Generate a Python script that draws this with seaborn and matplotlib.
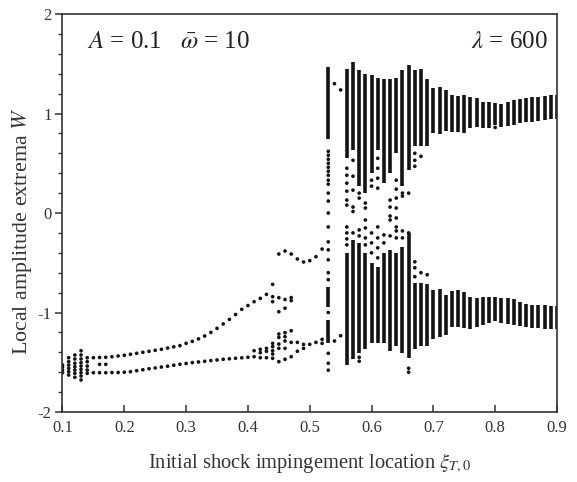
import numpy as np
import pandas as pd
import matplotlib
matplotlib.use("Agg")
import matplotlib.pyplot as plt
from matplotlib.ticker import MultipleLocator, FixedLocator
import seaborn as sns

# ---------------- data ----------------
# quasi-periodic cluster at small xi
cluster_x = [0.10, 0.11, 0.12, 0.13, 0.14, 0.16, 0.17]
cluster_y = [
    [-1.528, -1.55, -1.578, -1.605],
    [-1.454, -1.494, -1.528, -1.561, -1.595, -1.628],
    [-1.427, -1.467, -1.51, -1.545, -1.578, -1.611, -1.651],
    [-1.384, -1.427, -1.467, -1.505, -1.538, -1.571, -1.605, -1.638, -1.678],
    [-1.454, -1.494, -1.538, -1.578, -1.611],
    [-1.521],
    [-1.521],
]

# period-2 branches
branch_x = [0.15, 0.16, 0.17, 0.18, 0.19, 0.20, 0.21, 0.22, 0.23, 0.24,
            0.25, 0.26, 0.27, 0.28, 0.29, 0.30, 0.31, 0.32, 0.33, 0.34,
            0.35, 0.36, 0.37, 0.38, 0.39, 0.40, 0.41, 0.42, 0.43]
branch_upper = [-1.454, -1.452, -1.45, -1.444, -1.437, -1.43, -1.42, -1.41, -1.40, -1.39,
                -1.38, -1.37, -1.357, -1.345, -1.333, -1.31, -1.29, -1.265, -1.236, -1.20,
                -1.159, -1.115, -1.069, -1.02, -0.968, -0.93, -0.891, -0.858, -0.818]
branch_lower = [-1.605, -1.605, -1.605, -1.603, -1.603, -1.60, -1.595, -1.585, -1.575, -1.565,
                -1.557, -1.548, -1.54, -1.53, -1.52, -1.512, -1.503, -1.497, -1.49, -1.483,
                -1.477, -1.47, -1.465, -1.46, -1.455, -1.45, -1.444, -1.454, -1.454]

# extra points in the window region 0.41 - 0.55
window_x = [0.41, 0.42, 0.43, 0.44, 0.45, 0.46, 0.47, 0.48, 0.49, 0.50,
            0.51, 0.52, 0.53, 0.54, 0.55]
window_y = [
    [-1.384],
    [-1.37, -1.404],
    [-1.36, -1.39],
    [-0.717, -0.841, -0.891, -1.31, -1.343, -1.384, -1.417, -1.46],
    [-0.412, -0.851, -0.992, -1.216, -1.25, -1.317, -1.36, -1.494],
    [-0.382, -0.869, -0.957, -1.203, -1.243, -1.286, -1.36, -1.47],
    [-0.412, -0.85, -0.88, -1.183, -1.3, -1.444],
    [-0.462, -1.3, -1.39],
    [-0.492, -1.32, -1.36],
    [-0.479, -1.32],
    [-0.439, -1.30],
    [-0.362, -1.27, -1.31],
    [0.62, 0.58, 0.54, 0.50, 0.46, 0.42, 0.38, 0.33, 0.29, 0.20, 0.12, 0.0,
     -0.14, -0.29, -0.37, -0.47, -0.60, -0.67, -1.0, -1.41, -1.51, -1.58],
    [1.30, -1.286],
    [1.237, -1.233],
]

# sparse points in the chaotic region
chaos_x = [0.56, 0.57, 0.58, 0.59, 0.60, 0.61, 0.62, 0.63, 0.64, 0.65, 0.66, 0.67, 0.68, 0.69, 0.80]
chaos_y = [
    [0.45, 0.38, 0.30, 0.22, 0.13, 0.08, -0.14, -0.20, -0.26, -0.32],
    [0.53, 0.37, 0.23, 0.06, 0.015, -0.20],
    [0.20, 0.15, -0.17, -0.23, -1.45, -1.49],
    [0.10, 0.05, -0.07, -0.15, -0.25, -0.32],
    [0.33, 0.27, -0.20, -0.30, -0.40],
    [0.55, 0.45, 0.35, 0.25, -0.14, -0.25, -0.35, -0.45],
    [-0.22, -0.30],
    [0.13, 0.06, -0.03, -0.07, -0.23],
    [0.33, 0.24, 0.15, 0.05, -0.05, -0.14, -0.18, -0.25],
    [0.20, 0.17, -0.18, -0.25],
    [0.20, -0.20, -1.56, -1.60],
    [0.60, 0.53, 0.47, -0.49, -0.55, -0.64],
    [0.57, -0.60],
    [-0.62],
    [0.86],
]

# dense bands (vertical runs of extrema): x, lower end, upper end
band_x = [0.53, 0.53, 0.53,
          0.56, 0.56, 0.57, 0.57, 0.58, 0.58, 0.59, 0.59, 0.60, 0.60,
          0.61, 0.61, 0.62, 0.62, 0.63, 0.63, 0.64, 0.64, 0.65, 0.65,
          0.66, 0.66, 0.67, 0.67, 0.68, 0.68, 0.69, 0.69,
          0.70, 0.70, 0.71, 0.71, 0.72, 0.72, 0.73, 0.73, 0.74, 0.74,
          0.75, 0.75, 0.76, 0.76, 0.77, 0.77, 0.78, 0.78, 0.79, 0.79,
          0.80, 0.80, 0.81, 0.81, 0.82, 0.82, 0.83, 0.83, 0.84, 0.84,
          0.85, 0.85, 0.86, 0.86, 0.87, 0.87, 0.88, 0.88, 0.89, 0.89,
          0.90, 0.90]
band_lo = [0.74, -0.94, -1.31,
           0.55, -1.53, 0.63, -1.47, 0.27, -1.41, 0.20, -1.37, 0.40, -1.31,
           0.63, -1.31, 0.30, -1.31, 0.40, -1.39, 0.60, -1.34, 0.27, -1.41,
           0.43, -1.46, 0.67, -1.37, 0.67, -1.34, 0.67, -1.34,
           0.807, -1.27, 0.79, -1.25, 0.827, -1.226, 0.817, -1.149, 0.817, -1.149,
           0.807, -1.159, 0.851, -1.166, 0.861, -1.142, 0.858, -1.126, 0.851, -1.102,
           0.884, -1.082, 0.86, -1.102, 0.874, -1.119, 0.884, -1.126, 0.90, -1.132,
           0.911, -1.149, 0.918, -1.153, 0.924, -1.159, 0.934, -1.166, 0.941, -1.169,
           0.941, -1.169]
band_hi = [1.47, -0.74, -1.08,
           1.45, -0.40, 1.52, -0.27, 1.44, -0.30, 1.40, -0.40, 1.39, -0.50,
           1.36, -0.54, 1.35, -0.40, 1.35, -0.37, 1.36, -0.40, 1.44, -0.34,
           1.49, -0.20, 1.44, -0.70, 1.45, -0.70, 1.35, -0.71,
           1.259, -0.774, 1.262, -0.767, 1.236, -0.824, 1.186, -0.784, 1.176, -0.774,
           1.186, -0.791, 1.163, -0.841, 1.153, -0.851, 1.119, -0.841, 1.112, -0.841,
           1.102, -0.841, 1.10, -0.858, 1.119, -0.858, 1.136, -0.868, 1.146, -0.891,
           1.153, -0.915, 1.163, -0.925, 1.17, -0.925, 1.176, -0.925, 1.183, -0.935,
           1.183, -0.935]

x_ticks = [0.1, 0.2, 0.3, 0.4, 0.5, 0.6, 0.7, 0.8, 0.9]
x_ticklabels = ["0.1", "0.2", "0.3", "0.4", "0.5", "0.6", "0.7", "0.8", "0.9"]
y_ticks = [-2, -1, 0, 1, 2]
y_ticklabels = ["-2", "-1", "0", "1", "2"]

# ---------------- assemble point table ----------------
def expand(xs, ys_lists):
    px, py = [], []
    for x, ys in zip(xs, ys_lists):
        for y in ys:
            px.append(x)
            py.append(y)
    return px, py

pts_x, pts_y = [], []
for xs, ys in [(cluster_x, cluster_y), (window_x, window_y), (chaos_x, chaos_y)]:
    a, b = expand(xs, ys)
    pts_x += a
    pts_y += b
pts_x += branch_x + branch_x
pts_y += branch_upper + branch_lower
points = pd.DataFrame({"xi": pts_x, "W": pts_y})

# ---------------- plot ----------------
sns.set_theme(style="white")
plt.rcParams["font.family"] = ["Liberation Serif", "DejaVu Serif"]
plt.rcParams["mathtext.fontset"] = "stix"
plt.rcParams["axes.unicode_minus"] = False

fig = plt.figure(figsize=(5.77, 4.82), dpi=100)
ax = fig.add_axes([0.1083, 0.1452, 0.857, 0.8257])

ink = "#141414"
ax.vlines(band_x, band_lo, band_hi, colors=ink, linewidth=2.6, capstyle="butt")
sns.scatterplot(data=points, x="xi", y="W", s=7, color=ink, edgecolor="none",
                linewidth=0, ax=ax, legend=False)

ax.set_xlim(0.1, 0.9)
ax.set_ylim(-2, 2)
ax.xaxis.set_major_locator(FixedLocator(x_ticks))
ax.set_xticklabels(x_ticklabels)
ax.yaxis.set_major_locator(FixedLocator(y_ticks))
ax.set_yticklabels(y_ticklabels)
ax.yaxis.set_minor_locator(MultipleLocator(0.2))

spine_c = "#333333"
for s in ax.spines.values():
    s.set_color(spine_c)
    s.set_linewidth(1.2)

ax.tick_params(axis="x", which="major", direction="in", length=5, width=1.1,
               color=spine_c, labelcolor="#333333", labelsize=12, pad=6,
               bottom=True, top=False)
ax.tick_params(axis="y", which="major", direction="out", length=5, width=1.1,
               color=spine_c, labelcolor="#333333", labelsize=12, pad=3,
               left=True, right=False)
ax.tick_params(axis="y", which="minor", direction="out", length=3, width=1.0,
               color=spine_c, left=True, right=False)

ax.set_xlabel(r"Initial shock impingement location $\xi_{T,\mathit{0}}$",
              fontsize=14.8, color="#333333", labelpad=11)
ax.set_ylabel(r"Local amplitude extrema $W$", fontsize=15.8, color="#333333")
ax.yaxis.set_label_coords(-0.058, 0.455)

ax.text(0.050, 0.93, r"$A$ = 0.1", transform=ax.transAxes, fontsize=18,
        color="#222222", va="center", ha="left")
ax.text(0.238, 0.93, r"$\bar{\omega}$ = 10", transform=ax.transAxes, fontsize=18,
        color="#222222", va="center", ha="left")
ax.text(0.982, 0.93, r"$\lambda$ = 600", transform=ax.transAxes, fontsize=18,
        color="#222222", va="center", ha="right")

fig.savefig("out.png", dpi=100)
